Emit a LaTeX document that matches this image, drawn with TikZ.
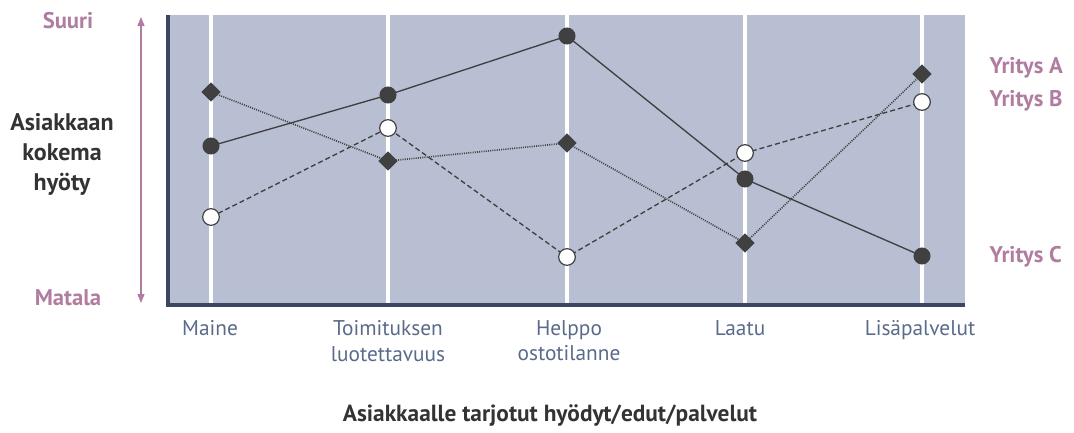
\documentclass[tikz,border=0pt]{standalone}
\usepackage{fontspec}
\setmainfont{PT Sans}
\usetikzlibrary{arrows.meta,shapes.geometric}
\definecolor{plotbg}{HTML}{B8BFD2}
\definecolor{axisc}{HTML}{3C4660}
\definecolor{mauve}{HTML}{B07DA0}
\definecolor{catc}{HTML}{5A6A8A}
\definecolor{dark}{HTML}{404040}
\definecolor{txt}{HTML}{333333}
\tikzset{
  fillpt/.style={circle,fill=dark,inner sep=0pt,minimum size=12.8pt},
  openpt/.style={circle,draw=dark,line width=0.9pt,fill=white,inner sep=0pt,minimum size=12.5pt},
  diapt/.style={diamond,fill=dark,inner sep=0pt,minimum size=14.5pt},
  catlab/.style={text=catc,font=\fontsize{16}{19}\selectfont,align=center,anchor=north},
  complab/.style={text=mauve,font=\fontsize{17}{20}\selectfont\bfseries,anchor=west},
  mauvelab/.style={text=mauve,font=\fontsize{17}{20}\selectfont\bfseries},
  serA/.style={dark,line width=1pt},
  serB/.style={dark,line width=1pt,dash pattern=on 3.75pt off 2.25pt},
  serC/.style={dark,line width=1.2pt,dash pattern=on 0.75pt off 0.9pt},
}
\begin{document}
\begin{tikzpicture}[x=0.75pt,y=-0.75pt]
\useasboundingbox (0,0) rectangle (1074,432);
% plot background
\fill[plotbg] (168,15) rectangle (965,305);
\foreach \xx in {211,388,567,745,922}{
  \draw[white,line width=3pt] (\xx,15) -- (\xx,305);
}
\draw[axisc,line width=2.6pt] (168,15) -- (168,305) -- (965,305);
% y axis arrow
\coordinate (ytop) at (141,17);
\coordinate (ybot) at (141,303);
\draw[mauve,line width=1pt,{Triangle[width=5.25pt,length=6.75pt]}-{Triangle[width=5.25pt,length=6.75pt]}] (ytop) -- (ybot);
\node[mauvelab] (suuri) at (68,21) {Suuri};
\node[mauvelab] (matala) at (68,298) {Matala};
\node[text=txt,font=\fontsize{18}{22.5}\selectfont\bfseries,align=center] (ylab) at (62,154) {Asiakkaan\\kokema\\hyöty};
% category labels
\node[catlab] (c1) at (210,316) {Maine};
\node[catlab] (c2) at (388,316) {Toimituksen\\luotettavuus};
\node[catlab] (c3) at (569,316) {Helppo\\ostotilanne};
\node[catlab] (c4) at (740,316) {Laatu};
\node[catlab] (c5) at (920,316) {Lisäpalvelut};
\node[text=txt,font=\fontsize{17.5}{20}\selectfont\bfseries] (xlab) at (550,416) {Asiakkaalle tarjotut hyödyt/edut/palvelut};
% series coordinates
\coordinate (a1) at (211,146); \coordinate (a2) at (388,95); \coordinate (a3) at (567,36); \coordinate (a4) at (745,179); \coordinate (a5) at (922,256);
\coordinate (d1) at (211,92); \coordinate (d2) at (388,161); \coordinate (d3) at (567,143); \coordinate (d4) at (745,243); \coordinate (d5) at (922,74);
\coordinate (o1) at (211,217); \coordinate (o2) at (388,128); \coordinate (o3) at (567,257); \coordinate (o4) at (745,153); \coordinate (o5) at (922,102);
\draw[serC] (d1) -- (d2) -- (d3) -- (d4) -- (d5);
\draw[serB] (o1) -- (o2) -- (o3) -- (o4) -- (o5);
\draw[serA] (a1) -- (a2) -- (a3) -- (a4) -- (a5);
\foreach \i in {1,...,5}{
  \node[diapt] (D\i) at (d\i) {};
  \node[openpt] (O\i) at (o\i) {};
  \node[fillpt] (A\i) at (a\i) {};
}
% company labels
\node[complab] (ya) at (985,68) {Yritys A};
\node[complab] (yb) at (985,101) {Yritys B};
\node[complab] (yc) at (985,257) {Yritys C};
\end{tikzpicture}
\end{document}
